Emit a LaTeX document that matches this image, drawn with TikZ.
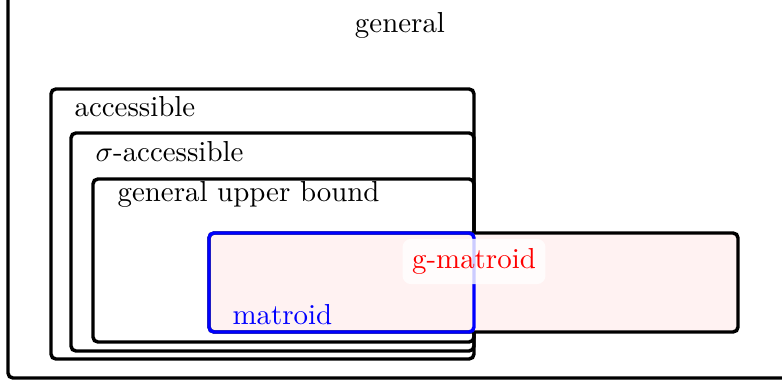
\documentclass[tikz,border=0pt]{standalone}
\begin{document}
\begin{tikzpicture}[x=0.346pt,y=-0.346pt,
  setbox/.style={draw=black,very thick,rounded corners=1.7pt},
  lbl/.style={anchor=base west,inner sep=0pt}]
\useasboundingbox (0,0) rectangle (782,383);
% nested classes
\draw[setbox] (8,-40) rectangle (800,378);
\draw[setbox] (51,89) rectangle (474,359);
\draw[setbox] (71,133) rectangle (474,351);
\draw[setbox] (93,179) rectangle (474,342);
% g-matroids and matroids
\draw[setbox,fill=red!5] (209,233) rectangle (738,332);
\draw[setbox,draw=blue] (209,233) rectangle (474,332);
% labels
\node[anchor=base,inner sep=0pt] (general) at (400,32) {general};
\node[lbl] (acc) at (74,117) {accessible};
\node[lbl] (sacc) at (95,162) {$\sigma$-accessible};
\node[lbl] (gub) at (117,202) {general upper bound};
\node[lbl,text=blue] (mat) at (232,325) {matroid};
\node[text=red,fill=white,fill opacity=0.8,text opacity=1,rounded corners=3pt] (gmat) at (474,261.5) {g-matroid};
\end{tikzpicture}
\end{document}
